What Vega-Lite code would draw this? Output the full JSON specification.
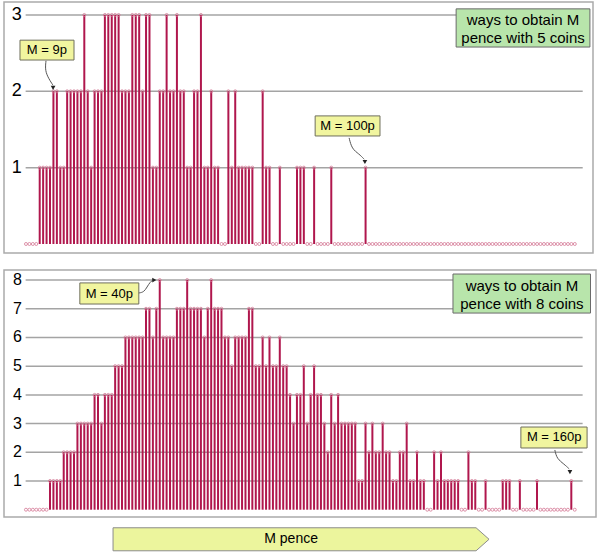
{
  "$schema": "https://vega.github.io/schema/vega-lite/v6.json",
  "padding": {"left": 3, "top": 1, "right": 5, "bottom": 5},
  "background": "white",
  "config": {
    "view": {"stroke": "#ababab", "strokeWidth": 1.5},
    "font": "Liberation Sans"
  },
  "datasets": {
    "coins": [
      {"M": 1, "c5": 0, "c8": 0}, {"M": 2, "c5": 0, "c8": 0}, {"M": 3, "c5": 0, "c8": 0}, {"M": 4, "c5": 0, "c8": 0},
      {"M": 5, "c5": 1, "c8": 0}, {"M": 6, "c5": 1, "c8": 0}, {"M": 7, "c5": 1, "c8": 0}, {"M": 8, "c5": 1, "c8": 1},
      {"M": 9, "c5": 2, "c8": 1}, {"M": 10, "c5": 2, "c8": 1}, {"M": 11, "c5": 1, "c8": 1}, {"M": 12, "c5": 1, "c8": 2},
      {"M": 13, "c5": 2, "c8": 2}, {"M": 14, "c5": 2, "c8": 2}, {"M": 15, "c5": 2, "c8": 2}, {"M": 16, "c5": 2, "c8": 3},
      {"M": 17, "c5": 2, "c8": 3}, {"M": 18, "c5": 3, "c8": 3}, {"M": 19, "c5": 2, "c8": 3}, {"M": 20, "c5": 1, "c8": 3},
      {"M": 21, "c5": 2, "c8": 4}, {"M": 22, "c5": 2, "c8": 4}, {"M": 23, "c5": 2, "c8": 3}, {"M": 24, "c5": 3, "c8": 4},
      {"M": 25, "c5": 3, "c8": 4}, {"M": 26, "c5": 3, "c8": 4}, {"M": 27, "c5": 3, "c8": 5}, {"M": 28, "c5": 3, "c8": 5},
      {"M": 29, "c5": 2, "c8": 5}, {"M": 30, "c5": 2, "c8": 6}, {"M": 31, "c5": 2, "c8": 6}, {"M": 32, "c5": 3, "c8": 6},
      {"M": 33, "c5": 3, "c8": 6}, {"M": 34, "c5": 3, "c8": 6}, {"M": 35, "c5": 2, "c8": 6}, {"M": 36, "c5": 3, "c8": 7},
      {"M": 37, "c5": 3, "c8": 7}, {"M": 38, "c5": 1, "c8": 6}, {"M": 39, "c5": 1, "c8": 7}, {"M": 40, "c5": 2, "c8": 8},
      {"M": 41, "c5": 2, "c8": 6}, {"M": 42, "c5": 3, "c8": 6}, {"M": 43, "c5": 2, "c8": 6}, {"M": 44, "c5": 2, "c8": 6},
      {"M": 45, "c5": 3, "c8": 7}, {"M": 46, "c5": 2, "c8": 7}, {"M": 47, "c5": 2, "c8": 7}, {"M": 48, "c5": 1, "c8": 8},
      {"M": 49, "c5": 1, "c8": 7}, {"M": 50, "c5": 2, "c8": 7}, {"M": 51, "c5": 2, "c8": 7}, {"M": 52, "c5": 3, "c8": 7},
      {"M": 53, "c5": 1, "c8": 6}, {"M": 54, "c5": 1, "c8": 7}, {"M": 55, "c5": 2, "c8": 8}, {"M": 56, "c5": 1, "c8": 7},
      {"M": 57, "c5": 1, "c8": 7}, {"M": 58, "c5": 0, "c8": 7}, {"M": 59, "c5": 0, "c8": 6}, {"M": 60, "c5": 2, "c8": 6},
      {"M": 61, "c5": 1, "c8": 5}, {"M": 62, "c5": 2, "c8": 6}, {"M": 63, "c5": 1, "c8": 6}, {"M": 64, "c5": 1, "c8": 6},
      {"M": 65, "c5": 1, "c8": 6}, {"M": 66, "c5": 1, "c8": 7}, {"M": 67, "c5": 1, "c8": 7}, {"M": 68, "c5": 0, "c8": 5},
      {"M": 69, "c5": 0, "c8": 5}, {"M": 70, "c5": 2, "c8": 6}, {"M": 71, "c5": 1, "c8": 5}, {"M": 72, "c5": 1, "c8": 6},
      {"M": 73, "c5": 0, "c8": 5}, {"M": 74, "c5": 0, "c8": 5}, {"M": 75, "c5": 1, "c8": 6}, {"M": 76, "c5": 0, "c8": 5},
      {"M": 77, "c5": 0, "c8": 5}, {"M": 78, "c5": 0, "c8": 4}, {"M": 79, "c5": 0, "c8": 3}, {"M": 80, "c5": 1, "c8": 4},
      {"M": 81, "c5": 1, "c8": 4}, {"M": 82, "c5": 1, "c8": 5}, {"M": 83, "c5": 0, "c8": 3}, {"M": 84, "c5": 0, "c8": 4},
      {"M": 85, "c5": 1, "c8": 5}, {"M": 86, "c5": 0, "c8": 4}, {"M": 87, "c5": 0, "c8": 4}, {"M": 88, "c5": 0, "c8": 3},
      {"M": 89, "c5": 0, "c8": 2}, {"M": 90, "c5": 1, "c8": 4}, {"M": 91, "c5": 0, "c8": 3}, {"M": 92, "c5": 0, "c8": 4},
      {"M": 93, "c5": 0, "c8": 3}, {"M": 94, "c5": 0, "c8": 3}, {"M": 95, "c5": 0, "c8": 3}, {"M": 96, "c5": 0, "c8": 3},
      {"M": 97, "c5": 0, "c8": 3}, {"M": 98, "c5": 0, "c8": 1}, {"M": 99, "c5": 0, "c8": 1}, {"M": 100, "c5": 1, "c8": 3},
      {"M": 101, "c5": 0, "c8": 2}, {"M": 102, "c5": 0, "c8": 3}, {"M": 103, "c5": 0, "c8": 2}, {"M": 104, "c5": 0, "c8": 2},
      {"M": 105, "c5": 0, "c8": 3}, {"M": 106, "c5": 0, "c8": 2}, {"M": 107, "c5": 0, "c8": 2}, {"M": 108, "c5": 0, "c8": 1},
      {"M": 109, "c5": 0, "c8": 1}, {"M": 110, "c5": 0, "c8": 2}, {"M": 111, "c5": 0, "c8": 2}, {"M": 112, "c5": 0, "c8": 3},
      {"M": 113, "c5": 0, "c8": 1}, {"M": 114, "c5": 0, "c8": 1}, {"M": 115, "c5": 0, "c8": 2}, {"M": 116, "c5": 0, "c8": 1},
      {"M": 117, "c5": 0, "c8": 1}, {"M": 118, "c5": 0, "c8": 0}, {"M": 119, "c5": 0, "c8": 0}, {"M": 120, "c5": 0, "c8": 2},
      {"M": 121, "c5": 0, "c8": 1}, {"M": 122, "c5": 0, "c8": 2}, {"M": 123, "c5": 0, "c8": 1}, {"M": 124, "c5": 0, "c8": 1},
      {"M": 125, "c5": 0, "c8": 1}, {"M": 126, "c5": 0, "c8": 1}, {"M": 127, "c5": 0, "c8": 1}, {"M": 128, "c5": 0, "c8": 0},
      {"M": 129, "c5": 0, "c8": 0}, {"M": 130, "c5": 0, "c8": 2}, {"M": 131, "c5": 0, "c8": 1}, {"M": 132, "c5": 0, "c8": 1},
      {"M": 133, "c5": 0, "c8": 0}, {"M": 134, "c5": 0, "c8": 0}, {"M": 135, "c5": 0, "c8": 1}, {"M": 136, "c5": 0, "c8": 0},
      {"M": 137, "c5": 0, "c8": 0}, {"M": 138, "c5": 0, "c8": 0}, {"M": 139, "c5": 0, "c8": 0}, {"M": 140, "c5": 0, "c8": 1},
      {"M": 141, "c5": 0, "c8": 1}, {"M": 142, "c5": 0, "c8": 1}, {"M": 143, "c5": 0, "c8": 0}, {"M": 144, "c5": 0, "c8": 0},
      {"M": 145, "c5": 0, "c8": 1}, {"M": 146, "c5": 0, "c8": 0}, {"M": 147, "c5": 0, "c8": 0}, {"M": 148, "c5": 0, "c8": 0},
      {"M": 149, "c5": 0, "c8": 0}, {"M": 150, "c5": 0, "c8": 1}, {"M": 151, "c5": 0, "c8": 0}, {"M": 152, "c5": 0, "c8": 0},
      {"M": 153, "c5": 0, "c8": 0}, {"M": 154, "c5": 0, "c8": 0}, {"M": 155, "c5": 0, "c8": 0}, {"M": 156, "c5": 0, "c8": 0},
      {"M": 157, "c5": 0, "c8": 0}, {"M": 158, "c5": 0, "c8": 0}, {"M": 159, "c5": 0, "c8": 0}, {"M": 160, "c5": 0, "c8": 1},
      {"M": 161, "c5": 0, "c8": 0}
    ],
    "levels5": [{"level": 1}, {"level": 2}, {"level": 3}],
    "levels8": [{"level": 1}, {"level": 2}, {"level": 3}, {"level": 4}, {"level": 5}, {"level": 6}, {"level": 7}, {"level": 8}]
  },
  "spacing": 15,
  "vconcat": [
    {
      "width": 589,
      "height": 251,
      "data": {"name": "coins"},
      "encoding": {
        "x": {"type": "quantitative", "scale": {"domain": [-5.41, 166.3], "nice": false, "zero": false}, "axis": null},
        "y": {"type": "quantitative", "scale": {"domain": [-0.118, 3.17], "nice": false, "zero": false}, "axis": null}
      },
      "layer": [
        {
          "data": {"name": "levels5"},
          "mark": {"type": "rule", "color": "#a4a4a4", "strokeWidth": 1.5},
          "encoding": {"y": {"field": "level", "type": "quantitative"}, "x": {"datum": 0.9}, "x2": {"datum": 163.3}}
        },
        {
          "data": {"name": "levels5"},
          "mark": {"type": "text", "align": "right", "baseline": "middle", "fontSize": 18, "font": "Liberation Sans", "color": "#000000"},
          "encoding": {"y": {"field": "level", "type": "quantitative"}, "x": {"datum": -0.2}, "text": {"field": "level"}}
        },
        {
          "mark": {"type": "rule", "color": "#b0174d", "strokeWidth": 2},
          "encoding": {"x": {"field": "M", "type": "quantitative"}, "y": {"field": "c5", "type": "quantitative"}, "y2": {"datum": 0}}
        },
        {
          "mark": {"type": "point", "shape": "circle", "filled": false, "size": 9, "stroke": "#d47896", "strokeWidth": 0.8, "opacity": 1},
          "encoding": {"x": {"field": "M", "type": "quantitative"}, "y": {"field": "c5", "type": "quantitative"}}
        },
        {
          "data": {"values": [{}]},
          "mark": {"type": "rect", "fill": "#f1f59f", "stroke": "#6f6f5c", "strokeWidth": 1},
          "encoding": {"x": {"datum": -0.75}, "x2": {"datum": 15}, "y": {"datum": 2.67}, "y2": {"datum": 2.41}}
        },
        {
          "data": {"values": [{}]},
          "mark": {"type": "text", "text": "M = 9p", "fontSize": 13, "font": "Liberation Sans", "color": "#000000", "baseline": "middle"},
          "encoding": {"x": {"datum": 7.1}, "y": {"datum": 2.54}}
        },
        {
          "data": {"values": [{"M": 6.83, "ways": 2.40}, {"M": 6.54, "ways": 2.27}, {"M": 7.7, "ways": 2.16}, {"M": 8.87, "ways": 2.08}]},
          "mark": {"type": "line", "interpolate": "basis", "color": "#555555", "strokeWidth": 1},
          "encoding": {"x": {"field": "M", "type": "quantitative"}, "y": {"field": "ways", "type": "quantitative"}, "order": {"value": null}}
        },
        {
          "data": {"values": [{}]},
          "mark": {"type": "point", "shape": "triangle-down", "filled": true, "size": 22, "color": "#222222", "opacity": 1},
          "encoding": {"x": {"datum": 8.9}, "y": {"datum": 2.045}}
        },
        {
          "data": {"values": [{}]},
          "mark": {"type": "rect", "fill": "#f1f59f", "stroke": "#6f6f5c", "strokeWidth": 1},
          "encoding": {"x": {"datum": 85.3}, "x2": {"datum": 104.2}, "y": {"datum": 1.678}, "y2": {"datum": 1.415}}
        },
        {
          "data": {"values": [{}]},
          "mark": {"type": "text", "text": "M = 100p", "fontSize": 13, "font": "Liberation Sans", "color": "#000000", "baseline": "middle"},
          "encoding": {"x": {"datum": 94.75}, "y": {"datum": 1.55}}
        },
        {
          "data": {"values": [{"M": 95.2, "ways": 1.39}, {"M": 96.0, "ways": 1.245}, {"M": 98.1, "ways": 1.18}, {"M": 99.6, "ways": 1.11}]},
          "mark": {"type": "line", "interpolate": "basis", "color": "#555555", "strokeWidth": 1},
          "encoding": {"x": {"field": "M", "type": "quantitative"}, "y": {"field": "ways", "type": "quantitative"}, "order": {"value": null}}
        },
        {
          "data": {"values": [{}]},
          "mark": {"type": "point", "shape": "triangle-down", "filled": true, "size": 22, "color": "#222222", "opacity": 1},
          "encoding": {"x": {"datum": 99.8}, "y": {"datum": 1.075}}
        },
        {
          "data": {"values": [{}]},
          "mark": {"type": "rect", "fill": "#b8e5ab", "stroke": "#6a6a6a", "strokeWidth": 1},
          "encoding": {"x": {"datum": 126.4}, "x2": {"datum": 165.4}, "y": {"datum": 3.08}, "y2": {"datum": 2.58}}
        },
        {
          "data": {"values": [{}]},
          "mark": {"type": "text", "text": ["ways to obtain M", "pence with 5 coins"], "fontSize": 15, "lineHeight": 18, "font": "Liberation Sans", "color": "#000000", "baseline": "middle"},
          "encoding": {"x": {"datum": 145.9}, "y": {"datum": 2.94}}
        }
      ]
    },
    {
      "width": 592,
      "height": 247,
      "data": {"name": "coins"},
      "encoding": {
        "x": {"type": "quantitative", "scale": {"domain": [-5.41, 167.2], "nice": false, "zero": false}, "axis": null},
        "y": {"type": "quantitative", "scale": {"domain": [-0.254, 8.35], "nice": false, "zero": false}, "axis": null}
      },
      "layer": [
        {
          "data": {"name": "levels8"},
          "mark": {"type": "rule", "color": "#a4a4a4", "strokeWidth": 1.5},
          "encoding": {"y": {"field": "level", "type": "quantitative"}, "x": {"datum": 0.9}, "x2": {"datum": 163.3}}
        },
        {
          "data": {"name": "levels8"},
          "mark": {"type": "text", "align": "right", "baseline": "middle", "fontSize": 16, "font": "Liberation Sans", "color": "#000000"},
          "encoding": {"y": {"field": "level", "type": "quantitative"}, "x": {"datum": -0.2}, "text": {"field": "level"}}
        },
        {
          "mark": {"type": "rule", "color": "#b0174d", "strokeWidth": 2},
          "encoding": {"x": {"field": "M", "type": "quantitative"}, "y": {"field": "c8", "type": "quantitative"}, "y2": {"datum": 0}}
        },
        {
          "mark": {"type": "point", "shape": "circle", "filled": false, "size": 9, "stroke": "#d47896", "strokeWidth": 0.8, "opacity": 1},
          "encoding": {"x": {"field": "M", "type": "quantitative"}, "y": {"field": "c8", "type": "quantitative"}}
        },
        {
          "data": {"values": [{}]},
          "mark": {"type": "rect", "fill": "#f1f59f", "stroke": "#6f6f5c", "strokeWidth": 1},
          "encoding": {"x": {"datum": 16.7}, "x2": {"datum": 33.9}, "y": {"datum": 7.9}, "y2": {"datum": 7.165}}
        },
        {
          "data": {"values": [{}]},
          "mark": {"type": "text", "text": "M = 40p", "fontSize": 13, "font": "Liberation Sans", "color": "#000000", "baseline": "middle"},
          "encoding": {"x": {"datum": 25.3}, "y": {"datum": 7.53}}
        },
        {
          "data": {"values": [{"M": 33.9, "ways": 7.55}, {"M": 35.4, "ways": 7.58}, {"M": 36.3, "ways": 7.76}, {"M": 37.2, "ways": 7.93}, {"M": 38.0, "ways": 8.0}]},
          "mark": {"type": "line", "interpolate": "basis", "color": "#555555", "strokeWidth": 1},
          "encoding": {"x": {"field": "M", "type": "quantitative"}, "y": {"field": "ways", "type": "quantitative"}, "order": {"value": null}}
        },
        {
          "data": {"values": [{}]},
          "mark": {"type": "point", "shape": "triangle-right", "filled": true, "size": 22, "color": "#222222", "opacity": 1},
          "encoding": {"x": {"datum": 38.4}, "y": {"datum": 8.0}}
        },
        {
          "data": {"values": [{}]},
          "mark": {"type": "rect", "fill": "#f1f59f", "stroke": "#6f6f5c", "strokeWidth": 1},
          "encoding": {"x": {"datum": 145.3}, "x2": {"datum": 164.6}, "y": {"datum": 2.88}, "y2": {"datum": 2.15}}
        },
        {
          "data": {"values": [{}]},
          "mark": {"type": "text", "text": "M = 160p", "fontSize": 13, "font": "Liberation Sans", "color": "#000000", "baseline": "middle"},
          "encoding": {"x": {"datum": 155.0}, "y": {"datum": 2.52}}
        },
        {
          "data": {"values": [{"M": 155.2, "ways": 2.08}, {"M": 155.8, "ways": 1.77}, {"M": 157.9, "ways": 1.59}, {"M": 159.4, "ways": 1.42}]},
          "mark": {"type": "line", "interpolate": "basis", "color": "#555555", "strokeWidth": 1},
          "encoding": {"x": {"field": "M", "type": "quantitative"}, "y": {"field": "ways", "type": "quantitative"}, "order": {"value": null}}
        },
        {
          "data": {"values": [{}]},
          "mark": {"type": "point", "shape": "triangle-down", "filled": true, "size": 22, "color": "#222222", "opacity": 1},
          "encoding": {"x": {"datum": 159.6}, "y": {"datum": 1.31}}
        },
        {
          "data": {"values": [{}]},
          "mark": {"type": "rect", "fill": "#b8e5ab", "stroke": "#6a6a6a", "strokeWidth": 1},
          "encoding": {"x": {"datum": 125.5}, "x2": {"datum": 165.6}, "y": {"datum": 8.21}, "y2": {"datum": 6.85}}
        },
        {
          "data": {"values": [{}]},
          "mark": {"type": "text", "text": ["ways to obtain M", "pence with 8 coins"], "fontSize": 15, "lineHeight": 18, "font": "Liberation Sans", "color": "#000000", "baseline": "middle"},
          "encoding": {"x": {"datum": 145.6}, "y": {"datum": 7.79}}
        },
        {
          "data": {"values": [{}]},
          "mark": {"type": "point", "shape": "M-1,-0.0612L0.931,-0.0612L1,0L0.931,0.0612L-1,0.0612Z", "size": 141376, "filled": true, "fill": "#ecf59d", "stroke": "#8c8c8c", "strokeWidth": 1, "opacity": 1},
          "encoding": {"x": {"datum": 81.2}, "y": {"datum": -1.03}}
        },
        {
          "data": {"values": [{}]},
          "mark": {"type": "text", "text": "M pence", "fontSize": 14, "font": "Liberation Sans", "color": "#000000", "baseline": "middle"},
          "encoding": {"x": {"datum": 78.3}, "y": {"datum": -1.03}}
        }
      ]
    }
  ]
}
